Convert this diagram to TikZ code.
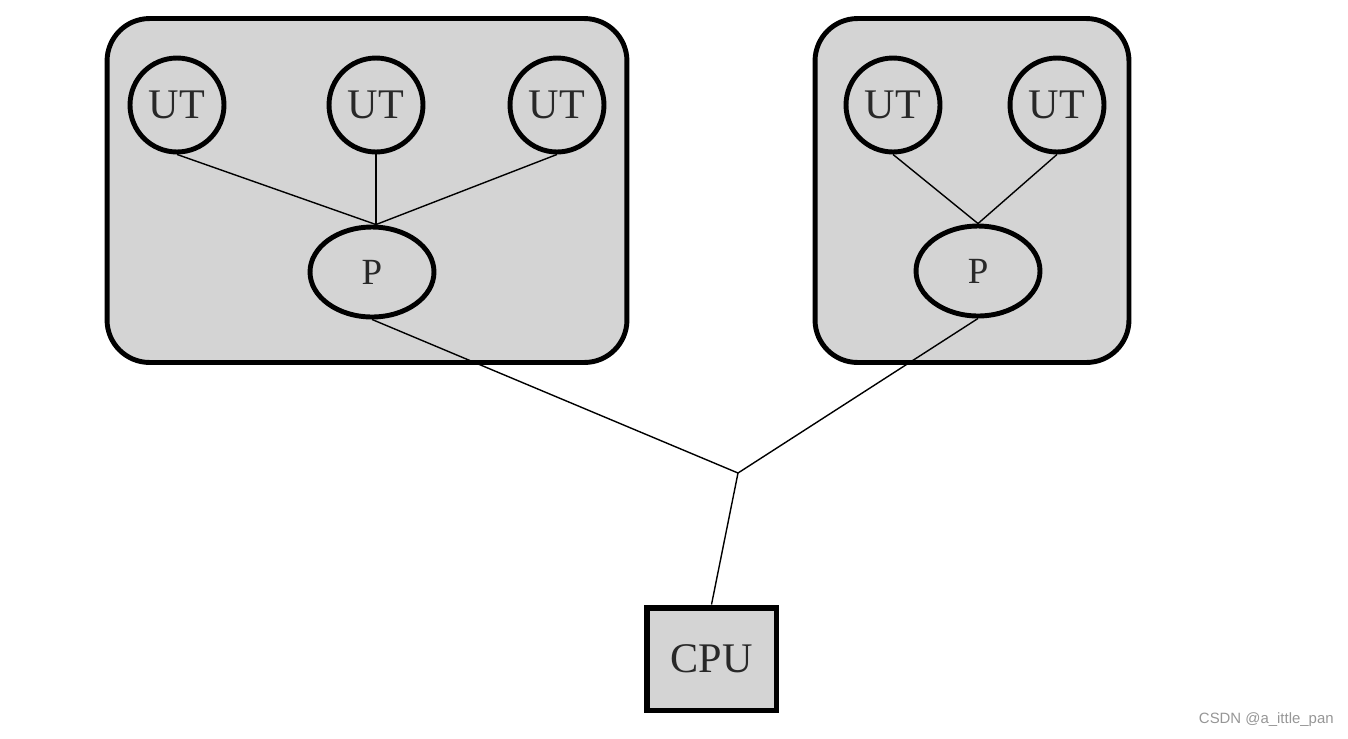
\documentclass[tikz,border=0pt]{standalone}
\usepackage{fontspec}
\setmainfont{Liberation Serif}
\newfontfamily\wmfont{Liberation Sans}
\usetikzlibrary{shapes.geometric}
\definecolor{boxgray}{RGB}{212,212,212}
\definecolor{wmgray}{RGB}{150,150,150}
\definecolor{txtgray}{RGB}{40,40,40}
\begin{document}
\begin{tikzpicture}[x=0.02cm,y=-0.02cm,
  group/.style={draw=black,line width=2.8pt,fill=boxgray,rounded corners=0.85cm,
    rectangle,inner sep=0pt},
  utnode/.style={draw=black,line width=2.8pt,fill=boxgray,circle,inner sep=0pt,
    minimum size=1.88cm,text=txtgray,font=\fontsize{24}{24}\selectfont},
  pnode/.style={draw=black,line width=2.8pt,fill=boxgray,ellipse,inner sep=0pt,
    minimum width=2.48cm,minimum height=1.8cm,text=txtgray,font=\fontsize{21}{21}\selectfont},
  cpunode/.style={draw=black,line width=3.4pt,fill=boxgray,rectangle,inner sep=0pt,
    minimum width=2.6cm,minimum height=2.06cm,text=txtgray,font=\fontsize{24}{24}\selectfont},
  link/.style={draw=black,line width=0.8pt}]
\useasboundingbox (0,0) rectangle (1348,738);
% groups
\node[group,minimum width=10.4cm,minimum height=6.88cm] (gl) at (367,190.5) {};
\node[group,minimum width=6.28cm,minimum height=6.88cm] (gr) at (972,190.5) {};
% left group
\node[utnode] (ut1) at (177,105) {UT};
\node[utnode] (ut2) at (376,105) {UT};
\node[utnode] (ut3) at (557,105) {UT};
\node[pnode] (pl) at (372,272) {P};
% right group
\node[utnode] (ut4) at (893,105) {UT};
\node[utnode] (ut5) at (1057,105) {UT};
\node[pnode] (pr) at (978,271) {P};
% cpu
\node[cpunode] (cpu) at (711.5,659) {CPU};
\coordinate (j) at (738,473);
\coordinate (tl) at (ut2.south |- pl.north);
% links
\draw[link] (ut1.south) -- (tl);
\draw[link] (ut2.south) -- (tl);
\draw[link] (ut3.south) -- (tl);
\draw[link] (ut4.south) -- (pr.north);
\draw[link] (ut5.south) -- (pr.north);
\draw[link] (pl.south) -- (j);
\draw[link] (pr.south) -- (j);
\draw[link] (j) -- (cpu.north);
% watermark
\node[font=\wmfont\fontsize{8.5}{8.5}\selectfont,text=wmgray,anchor=east,inner sep=0pt] (wm) at (1334,720) {CSDN @a\_ittle\_pan};
\end{tikzpicture}
\end{document}
